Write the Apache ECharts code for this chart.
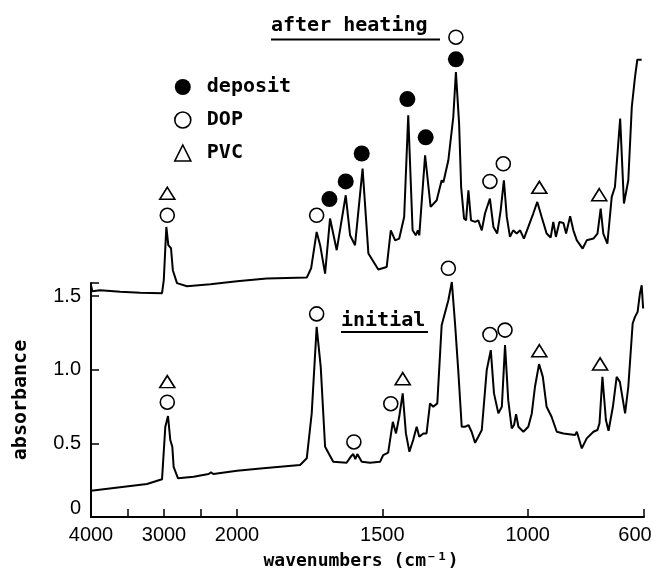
<!DOCTYPE html>
<html><head><meta charset="utf-8">
<script src="https://cdn.jsdelivr.net/npm/echarts@6/dist/echarts.min.js"></script>
<style>html,body{margin:0;padding:0;background:#fff}#c{width:660px;height:586px}</style>
</head><body><div id="c"></div>
<script>
// ---- data (wavenumber cm^-1, absorbance) ----
const afterWn = [4000,3982,3873,3599,3325,3027,3003,2968,2941,2904,2879,2822,2685,2366,2000,1898,1760,1745,1726,1714,1697,1680,1657,1626,1611,1594,1568,1548,1514,1485,1471,1456,1442,1425,1411,1396,1385,1378,1373,1353,1334,1313,1296,1290,1273,1256,1247,1236,1229,1219,1212,1204,1195,1181,1170,1158,1147,1130,1118,1105,1093,1082,1072,1061,1050,1038,1026,1013,998,981,967,952,935,921,912,903,891,877,868,854,843,831,811,797,774,760,749,740,726,711,700,682,669,654,642,631,623,608];
const afterAbs = [1.575,1.534,1.541,1.531,1.524,1.521,1.609,1.971,1.847,1.826,1.677,1.589,1.568,1.582,1.602,1.620,1.627,1.690,1.937,1.847,1.654,2.028,1.813,2.186,1.914,1.847,2.367,1.790,1.682,1.699,1.948,1.880,1.892,2.039,2.729,1.948,1.914,1.948,1.914,2.458,2.107,2.152,2.288,2.274,2.424,2.718,3.023,2.673,2.242,2.028,2.016,2.220,2.016,2.005,2.016,1.948,2.062,2.164,1.971,1.926,2.084,2.288,2.039,1.903,1.948,1.926,1.948,1.892,1.971,2.062,2.141,2.039,1.926,1.899,2.005,1.903,2.005,1.998,1.926,2.043,1.948,1.880,1.824,1.880,1.892,1.926,2.096,1.926,1.858,2.175,2.242,2.707,2.130,2.288,2.786,2.989,3.107,3.107];
const initWn = [4000,3233,3027,2982,2945,2914,2886,2868,2808,2594,2389,2356,2324,2000,1910,1783,1760,1743,1726,1712,1697,1669,1623,1609,1600,1593,1586,1571,1542,1508,1497,1480,1464,1453,1442,1430,1419,1407,1394,1382,1373,1359,1348,1336,1325,1311,1296,1279,1273,1261,1250,1239,1227,1216,1204,1193,1181,1170,1158,1141,1127,1116,1101,1089,1078,1067,1055,1047,1040,1032,1015,998,986,975,961,948,935,918,900,877,837,831,814,797,774,760,753,743,731,722,707,694,683,665,654,639,631,622,614,608,603];
const initAbs = [0.178,0.224,0.256,0.613,0.686,0.523,0.477,0.341,0.263,0.274,0.292,0.303,0.292,0.314,0.331,0.353,0.399,0.704,1.292,1.020,0.477,0.375,0.369,0.409,0.428,0.394,0.428,0.375,0.369,0.375,0.421,0.437,0.647,0.568,0.681,0.840,0.568,0.443,0.523,0.613,0.545,0.568,0.568,0.772,0.749,0.772,1.303,1.428,1.473,1.597,1.315,0.998,0.613,0.613,0.625,0.579,0.504,0.545,0.591,0.998,1.134,0.840,0.704,0.749,1.168,0.794,0.602,0.625,0.699,0.613,0.579,0.613,0.704,0.885,1.039,0.952,0.749,0.681,0.579,0.568,0.557,0.579,0.466,0.534,0.579,0.591,0.638,0.952,0.659,0.586,0.749,0.952,0.918,0.704,0.885,1.315,1.360,1.394,1.519,1.575,1.417];

// band markers
const depositWn = [1682,1626,1571,1414,1351,1247];
const depositAbs = [2.16,2.28,2.47,2.84,2.58,3.11];
const dopWn = [2955,1726,1247,1130,1084, 2955,1726,1598,1471,1273,1130,1078];
const dopAbs = [2.05,2.05,3.26,2.28,2.40, 0.78,1.38,0.51,0.77,1.69,1.24,1.27];
const pvcWn = [2955,960,754, 2955,1430,960,751];
const pvcAbs = [2.20,2.24,2.19, 0.92,0.94,1.13,1.04];

// tick labels
const yTickLabels = [0,0.5,1.0,1.5];
const xTicksLeft = [4000,3000,2000];
const xTicksRight = [1500,1000,600];

// ---- chart ----
const chart = echarts.init(document.getElementById('c'), null, {renderer:'canvas'});
const TXT = '"DejaVu Sans Mono", monospace';
const NUM = '"Liberation Sans", Arial, sans-serif';
const ranges = [[2000,4000],[600,2000]];

function pts(wn, ab, lo, hi){
  const r=[]; for(let i=0;i<wn.length;i++){ if(wn[i]>=lo && wn[i]<=hi) r.push([wn[i],ab[i]]); } return r;
}
function spec(name, wn, ab){
  return [0,1].map(g=>({type:'line', name, xAxisIndex:g, yAxisIndex:g,
    data: pts(wn,ab,ranges[g][0],ranges[g][1]), showSymbol:false, symbol:'none', clip:false,
    lineStyle:{color:'#000', width:2}, silent:true, z:2}));
}
const hollow = {color:'#fff', borderColor:'#000', borderWidth:1.6, opacity:1};
function marks(name, wn, ab, symbol, size, style){
  return [0,1].map(g=>({type:'scatter', name, xAxisIndex:g, yAxisIndex:g,
    data: pts(wn,ab, g?600:2000.5, g?1999.5:4000), symbol, symbolSize:size,
    itemStyle:style, clip:false, silent:true, z:5}));
}
const axisLine = {show:true, onZero:false, lineStyle:{color:'#000', width:2}};
const axisTick = {show:true, inside:true, length:8, lineStyle:{color:'#000', width:1.5}};

const option = {
  animation:false,
  backgroundColor:'#fff',
  grid:[
    {left:91, top:283, width:146, height:234, outerBoundsMode:'none', containLabel:false},
    {left:237, top:283, width:407, height:234, outerBoundsMode:'none', containLabel:false}
  ],
  xAxis:[
    {gridIndex:0, type:'value', min:2000, max:4000, interval:500, inverse:true,
     axisLine, axisTick, splitLine:{show:false},
     axisLabel:{color:'#000', fontSize:20, fontFamily:NUM, margin:8, hideOverlap:false,
       formatter:v=> xTicksLeft.includes(v) ? String(v) : ''}},
    {gridIndex:1, type:'value', min:600, max:2000, splitNumber:3, minInterval:500, maxInterval:500, inverse:true,
     axisLine, axisTick, splitLine:{show:false},
     axisLabel:{color:'#000', fontSize:20, fontFamily:NUM, margin:8, hideOverlap:false, showMinLabel:true,
       formatter:v=> v===600 ? '{r|600}' : (xTicksRight.includes(v) ? String(v) : ''),
       rich:{r:{color:'#000', fontSize:20, fontFamily:NUM, padding:[0,18,0,0]}}}}
  ],
  yAxis:[
    {gridIndex:0, type:'value', min:0, max:1.59, interval:0.5,
     axisLine, axisTick, splitLine:{show:false},
     axisLabel:{color:'#000', fontSize:20, fontFamily:NUM, margin:10,
       formatter:v=> yTickLabels.some(t=>Math.abs(t-v)<1e-9) ? (v===0?'{z|0}':v.toFixed(1)) : '',
       rich:{z:{color:'#000', fontSize:20, fontFamily:NUM, padding:[0,0,18,0]}}},
     name:'absorbance', nameLocation:'middle', nameGap:60,
     nameTextStyle:{color:'#000', fontSize:20, fontWeight:'bold', fontFamily:TXT}},
    {gridIndex:1, type:'value', min:0, max:1.59, interval:0.5, show:false}
  ],
  legend:{orient:'vertical', left:169, top:72, itemWidth:16, itemHeight:16, itemGap:13, selectedMode:false,
    textStyle:{fontFamily:TXT, fontSize:20, fontWeight:'bold', color:'#000', padding:[0,0,0,11]},
    data:[
      {name:'deposit', icon:'circle', itemStyle:{color:'#000', borderWidth:0, opacity:1}},
      {name:'DOP', icon:'circle', itemStyle:hollow},
      {name:'PVC', icon:'triangle', itemStyle:hollow}
    ]},
  series:[
    ...spec('after heating', afterWn, afterAbs),
    ...spec('initial', initWn, initAbs),
    ...marks('deposit', depositWn, depositAbs, 'circle', 16, {color:'#000', opacity:1}),
    ...marks('DOP', dopWn, dopAbs, 'circle', 14, hollow),
    ...marks('PVC', pvcWn, pvcAbs, 'triangle', [15,12], hollow)
  ],
  graphic:[
    {type:'text', x:271, y:26, style:{text:'after heating', font:'bold 20px "DejaVu Sans Mono", monospace', fill:'#000', align:'left', verticalAlign:'middle'}},
    {type:'line', shape:{x1:271, y1:39.5, x2:440, y2:39.5}, style:{stroke:'#000', lineWidth:1.8}},
    {type:'text', x:341, y:321, style:{text:'initial', font:'bold 20px "DejaVu Sans Mono", monospace', fill:'#000', align:'left', verticalAlign:'middle'}},
    {type:'line', shape:{x1:341, y1:332, x2:428, y2:332}, style:{stroke:'#000', lineWidth:1.8}},
    {type:'text', x:361, y:561, style:{text:'wavenumbers (cm\u207B\u00B9)', font:'bold 18px "DejaVu Sans Mono", monospace', fill:'#000', align:'center', verticalAlign:'middle'}}
  ]
};
chart.setOption(option);
</script>
</body></html>
